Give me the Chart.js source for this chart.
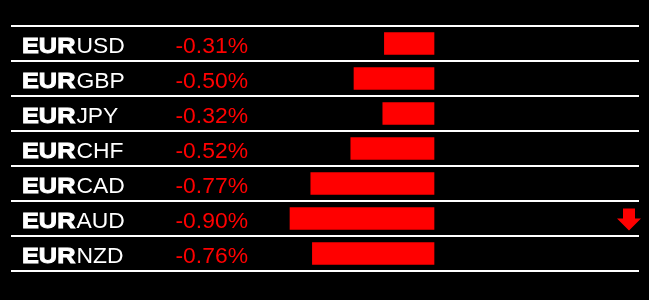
<!DOCTYPE html>
<html><head><meta charset="utf-8">
<script src="https://cdn.jsdelivr.net/npm/chart.js@4/dist/chart.umd.min.js"></script>
<style>html,body{margin:0;padding:0;background:#000;}#wrap{width:649px;height:300px;}</style>
</head><body><div id="wrap"><canvas id="c" width="649" height="300"></canvas></div>
<script>
const bases = ["EUR","EUR","EUR","EUR","EUR","EUR","EUR"];
const quotes = ["USD","GBP","JPY","CHF","CAD","AUD","NZD"];
const changes = [-0.31,-0.50,-0.32,-0.52,-0.77,-0.90,-0.76];
const arrows = [false,false,false,false,false,true,false];
const categories = bases.map((b,i)=>b+quotes[i]);
const xMin = -2.64375, xMax = 1.28125;

function stretchText(ctx, txt, x, y, sx, bold) {
  ctx.save();
  ctx.translate(x, y);
  ctx.scale(sx, 1);
  ctx.fillText(txt, 0, 0);
  if (bold) { ctx.lineWidth = 0.9; ctx.strokeStyle = ctx.fillStyle; ctx.strokeText(txt, 0, 0); }
  const w = ctx.measureText(txt).width * sx;
  ctx.restore();
  return w;
}

const overlay = {
  id:'overlay',
  beforeDraw(chart){
    const ctx = chart.ctx;
    ctx.save();
    ctx.fillStyle = '#000';
    ctx.fillRect(0,0,chart.width,chart.height);
    ctx.restore();
  },
  afterDatasetsDraw(chart){
    const ctx = chart.ctx, y = chart.scales.y, a = chart.chartArea;
    const step = y.getPixelForValue(1) - y.getPixelForValue(0);
    ctx.save();
    ctx.strokeStyle = '#fff'; ctx.lineWidth = 2;
    for (let i=0;i<=categories.length;i++){
      const py = Math.round(y.getPixelForValue(i) - step/2);
      ctx.beginPath(); ctx.moveTo(a.left, py); ctx.lineTo(a.right, py); ctx.stroke();
    }
    ctx.textBaseline = 'alphabetic';
    categories.forEach((c,i)=>{
      const cy = y.getPixelForValue(i);
      const by = cy + 9;
      ctx.fillStyle = '#fff';
      ctx.font = 'bold 22px "Liberation Sans", Arial, sans-serif';
      const w = stretchText(ctx, bases[i], 22, by, 1.15, true);
      ctx.font = '22px "Liberation Sans", Arial, sans-serif';
      stretchText(ctx, quotes[i], 22 + w + 1, by, 1.04, false);
      ctx.fillStyle = '#ff0000';
      stretchText(ctx, changes[i].toFixed(2) + '%', 175.5, by, 1.04, false);
      if (arrows[i]) {
        const ax = 629, top = cy - 10, mid = cy, bot = cy + 12;
        ctx.beginPath();
        ctx.moveTo(ax-6, top); ctx.lineTo(ax+6, top); ctx.lineTo(ax+6, mid);
        ctx.lineTo(ax+12, mid); ctx.lineTo(ax, bot); ctx.lineTo(ax-12, mid);
        ctx.lineTo(ax-6, mid); ctx.closePath(); ctx.fill();
      }
    });
    ctx.restore();
  }
};

new Chart(document.getElementById('c'), {
  type:'bar',
  data:{ labels: categories, datasets:[{ data: changes, backgroundColor:'#ff0000', borderWidth:0, barThickness:22 }]},
  options:{
    indexAxis:'y', responsive:false, animation:false,
    layout:{ padding:{ left:11, right:10, top:26, bottom:29 } },
    plugins:{ legend:{display:false}, tooltip:{enabled:false} },
    scales:{
      x:{ display:false, min:xMin, max:xMax },
      y:{ display:false, offset:true }
    }
  },
  plugins:[overlay]
});
</script></body></html>
